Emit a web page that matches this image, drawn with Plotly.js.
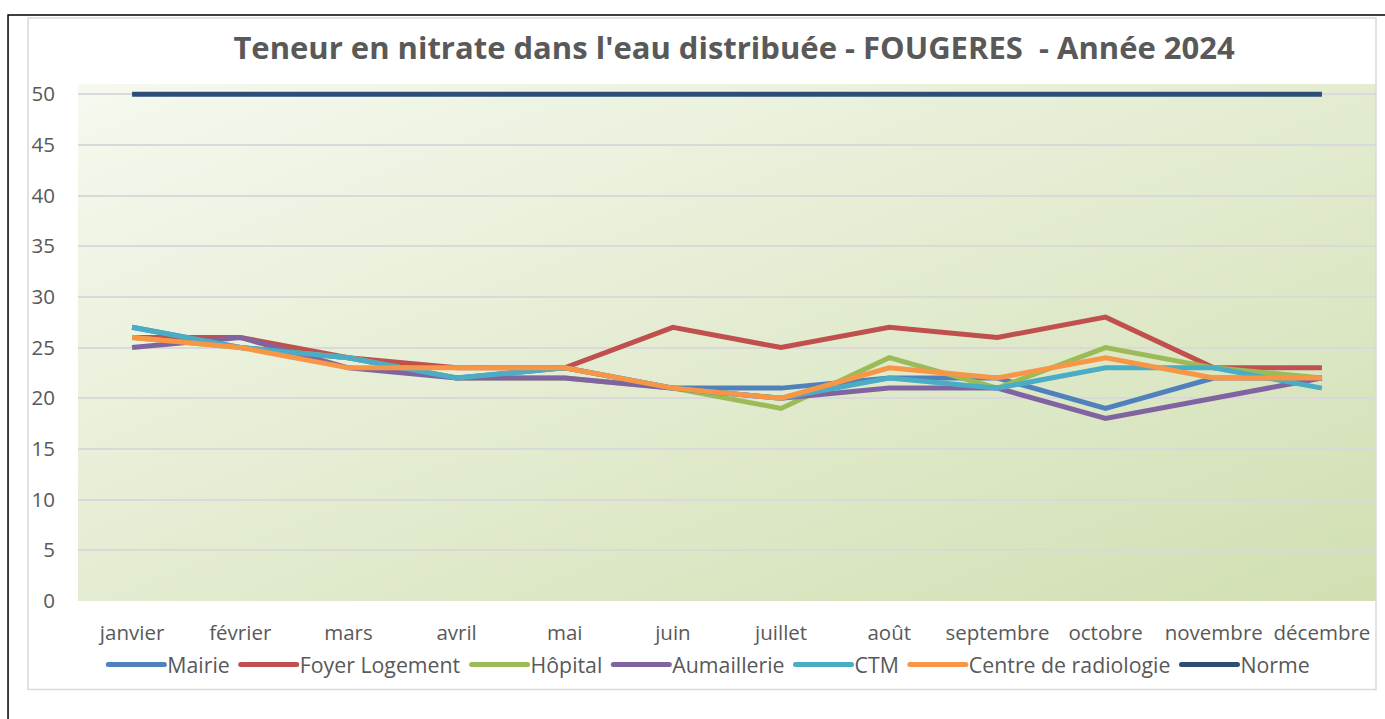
<!DOCTYPE html>
<html>
<head>
<meta charset="utf-8">
<script src="https://cdn.plot.ly/plotly-3.0.1.min.js"></script>
<style>html,body{margin:0;padding:0;background:#fff;}#chart{width:1385px;height:719px;}</style>
</head>
<body>
<div id="chart"></div>
<script>
const months = ['janvier','février','mars','avril','mai','juin','juillet','août','septembre','octobre','novembre','décembre'];
const mairie      = [27,25,24,22,23,21,21,22,22,19,22,22];
const foyer       = [26,26,24,23,23,27,25,27,26,28,23,23];
const hopital     = [26,25,24,22,22,21,19,24,21,25,23,22];
const aumaillerie = [25,26,23,22,22,21,20,21,21,18,20,22];
const ctm         = [27,25,24,22,23,21,20,22,21,23,23,21];
const radiologie  = [26,25,23,23,23,21,20,23,22,24,22,22];
const norme       = [50,50,50,50,50,50,50,50,50,50,50,50];

const seriesNames = ['Mairie','Foyer Logement','Hôpital','Aumaillerie','CTM','Centre de radiologie','Norme'];
const seriesData = [mairie, foyer, hopital, aumaillerie, ctm, radiologie, norme];
const seriesColors = ['#4f81bd','#c0504d','#9bbb59','#8064a2','#4bacc6','#f79646','#2c4d75'];

const traces = seriesNames.map((n,i)=>({
  type:'scatter', mode:'lines', name:n, x:months, y:seriesData[i],
  line:{color:seriesColors[i], width:5, shape:'linear'},
  hoverinfo:'x+y+name'
}));

const grad = 'data:image/svg+xml;utf8,' + encodeURIComponent(
 '<svg xmlns="http://www.w3.org/2000/svg" width="1298" height="517" preserveAspectRatio="none">' +
 '<defs><linearGradient id="g" x1="0" y1="0" x2="1" y2="1">' +
 '<stop offset="0" stop-color="#f5f9ef"/><stop offset="1" stop-color="#d1dfb2"/></linearGradient></defs>' +
 '<rect width="1298" height="517" fill="url(#g)"/></svg>');

const layout = {
  width:1385, height:719,
  margin:{l:78, r:9, t:84, b:118},
  paper_bgcolor:'#ffffff', plot_bgcolor:'rgba(0,0,0,0)',
  font:{family:'Open Sans, sans-serif', color:'#595959', size:20},
  title:{text:"Teneur en nitrate dans l'eau distribuée - FOUGERES \u00a0- Année 2024",
         font:{family:'Open Sans, sans-serif', size:31, color:'#595959', weight:'bold'},
         x:0.53, xanchor:'center', y:0.933, yanchor:'middle'},
  xaxis:{type:'category', range:[-0.5,11.5], showgrid:false, zeroline:false, showline:false,
         ticks:'', ticklabelstandoff:17, tickfont:{size:20.5, color:'#595959'}, fixedrange:true},
  yaxis:{range:[0,51], dtick:5, tick0:0, showgrid:true, gridcolor:'#d9d9d9', gridwidth:2,
         zeroline:false, showline:false, ticks:'', ticklabelstandoff:22,
         tickfont:{size:20.5, color:'#595959'}, fixedrange:true},
  legend:{orientation:'h', x:0.486, xanchor:'center', y:-0.123, yanchor:'middle',
          font:{size:21.3, color:'#595959'}, bgcolor:'rgba(0,0,0,0)', itemwidth:55, tracegroupgap:0},
  showlegend:true,
  images:[{source:grad, xref:'paper', yref:'paper', x:0, y:1, sizex:1, sizey:1,
           sizing:'stretch', xanchor:'left', yanchor:'top', layer:'below'}],
  shapes:[
    {type:'rect', xref:'paper', yref:'paper', x0:-0.0385, x1:1.0, y0:-0.171, y1:1.1275,
     line:{color:'#d9d9d9', width:1.5}, fillcolor:'rgba(0,0,0,0)', layer:'below'},
    {type:'rect', xref:'paper', yref:'paper', x0:-0.0539, x1:1.02, y0:-0.25, y1:1.1333,
     line:{color:'#000000', width:1.5}, fillcolor:'rgba(0,0,0,0)', layer:'above'}
  ]
};

Plotly.newPlot('chart', traces, layout, {displayModeBar:false, staticPlot:true}).then(gd=>{
  gd.querySelectorAll('.legend .traces .js-line').forEach(p=>{
    p.setAttribute('d','M6,0h56');
    p.style.strokeLinecap='round';
  });
});
</script>
</body>
</html>
